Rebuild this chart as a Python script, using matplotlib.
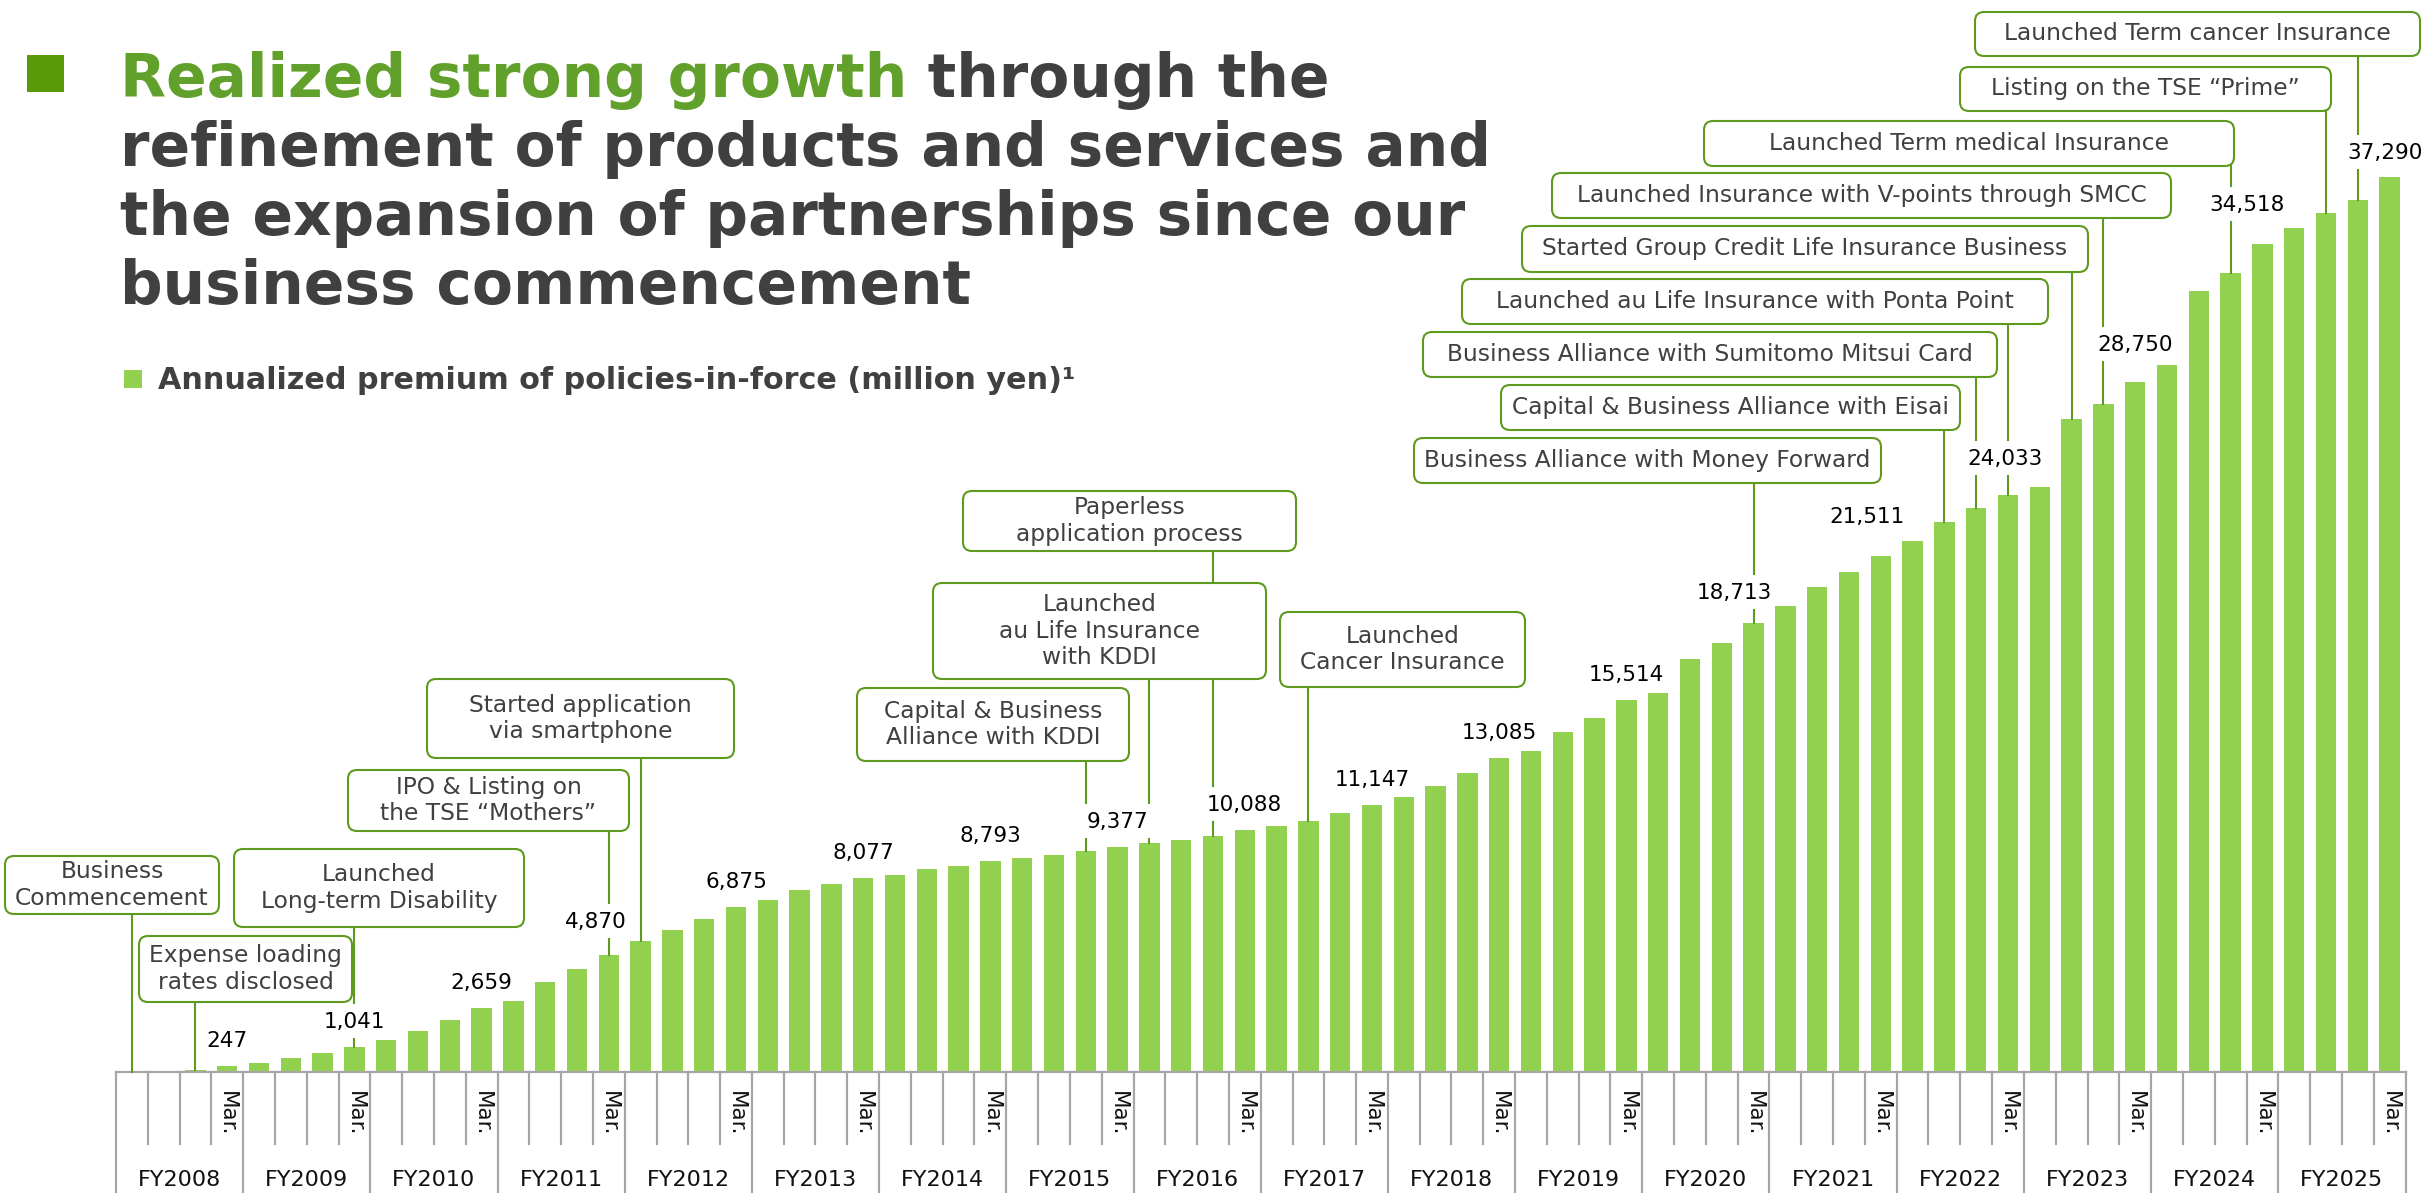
import matplotlib
matplotlib.use("Agg")
import matplotlib.pyplot as plt
from matplotlib.patches import FancyBboxPatch, Rectangle
from matplotlib.lines import Line2D

W, H, DPI = 2424, 1193, 100

BAR = "#92D050"
EDGE = "#5E9A1E"
TITLE_GREEN = "#62A02C"
MARK = "#5A9A08"
DARK = "#404040"
GRID = "#A6A6A6"

# fiscal years, four quarter-end columns each (Jun, Sep, Dec, Mar)
fiscal_years = [f"FY{y}" for y in range(2008, 2026)]
quarter_mark = "Mar."

# annualized premium of policies-in-force, million yen, per quarter end
premium = [
    0, 30, 100, 247,
    400, 590, 810, 1041,
    1350, 1720, 2190, 2659,
    2980, 3770, 4290, 4870,
    5450, 5940, 6380, 6875,
    7180, 7590, 7840, 8077,
    8230, 8450, 8600, 8793,
    8910, 9030, 9200, 9377,
    9530, 9670, 9840, 10088,
    10250, 10470, 10780, 11147,
    11460, 11940, 12480, 13085,
    13370, 14180, 14760, 15514,
    15810, 17210, 17880, 18713,
    19430, 20210, 20820, 21511,
    22110, 22910, 23500, 24033,
    24370, 27230, 27840, 28750,
    29470, 32530, 33300, 34518,
    35160, 35770, 36330, 37290,
]

# milestones: text and the quarter column (1-based) they point at
events = [
    ("Business\nCommencement", 1),
    ("Expense loading\nrates disclosed", 3),
    ("Launched\nLong-term Disability", 8),
    ("IPO & Listing on\nthe TSE \u201cMothers\u201d", 16),
    ("Started application\nvia smartphone", 17),
    ("Capital & Business\nAlliance with KDDI", 31),
    ("Launched\nau Life Insurance\nwith KDDI", 33),
    ("Paperless\napplication process", 35),
    ("Launched\nCancer Insurance", 38),
    ("Business Alliance with Money Forward", 52),
    ("Capital & Business Alliance with Eisai", 58),
    ("Business Alliance with Sumitomo Mitsui Card", 59),
    ("Launched au Life Insurance with Ponta Point", 60),
    ("Started Group Credit Life Insurance Business", 62),
    ("Launched Insurance with V-points through SMCC", 63),
    ("Launched Term medical Insurance", 67),
    ("Listing on the TSE \u201cPrime\u201d", 70),
    ("Launched Term cancer Insurance", 71),
]

# callout boxes in pixels from the top-left corner: left, top, right, bottom
boxes = [
    (5, 856, 219, 914), (139, 936, 352, 1002), (234, 849, 524, 927),
    (348, 770, 629, 831), (427, 679, 734, 758), (857, 688, 1129, 761),
    (933, 583, 1266, 679), (963, 491, 1296, 551), (1280, 612, 1525, 687),
    (1414, 438, 1881, 483), (1501, 385, 1960, 430), (1423, 332, 1997, 377),
    (1462, 279, 2048, 324), (1522, 226, 2088, 272), (1552, 173, 2171, 218),
    (1704, 121, 2234, 166), (1960, 67, 2331, 111), (1975, 12, 2420, 56),
]

# value label nudges in pixels (dx, rise above bar)
label_shift = {"FY2011": (-13, 27), "FY2020": (-19, 24), "FY2021": (-14, 33),
               "FY2022": (-3, 30), "FY2023": (0, 31), "FY2024": (-15, 33),
               "FY2025": (-5, 18)}

X0, PITCH, BASE, PER_PX = 115.9, 31.8, 1072.3, 41.65


def inch(x, y):
    return x / DPI, (H - y) / DPI


fig = plt.figure(figsize=(W / DPI, H / DPI), dpi=DPI, facecolor="white")
n = len(premium)
ax = fig.add_axes([X0 / W, (H - BASE) / H, n * PITCH / W, BASE / H])
ax.set_xlim(0.5, n + 0.5)
ax.set_ylim(0, BASE * PER_PX)
ax.axis("off")

slots = list(range(1, n + 1))
ax.bar(slots, premium, width=0.64, color=BAR, zorder=3)
ax.axhline(0, color=GRID, lw=1.6, zorder=4, clip_on=False)

# category table under the bars
xt = ax.get_xaxis_transform()
for b in range(n + 1):
    low = -0.125 if b % 4 == 0 else -(1144 - BASE) / BASE
    ax.add_line(Line2D([b + 0.5, b + 0.5], [0, low], transform=xt,
                       color=GRID, lw=1.6, clip_on=False))
for i, fy in enumerate(fiscal_years):
    ax.text(4 * i + 4, -(1114 - BASE) / BASE, quarter_mark, transform=xt,
            rotation=270, ha="center", va="center", fontsize=15.5, color="#111111")
    ax.text(4 * i + 2.5, -(1180 - BASE) / BASE, fy, transform=xt,
            ha="center", va="center", fontsize=16, color="#111111")

# year-end value labels
value_texts = []
for i, fy in enumerate(fiscal_years):
    k = 4 * i + 4
    v = premium[k - 1]
    dx, dy = label_shift.get(fy, (0, 19))
    t = ax.annotate(f"{v:,}", xy=(k, v), xytext=(dx * 0.72, dy * 0.72),
                    textcoords="offset points", ha="center", va="baseline",
                    fontsize=15.5, color="black", zorder=5)
    value_texts.append(t)

# title
fs_title = 43
baselines = [97, 166, 235, 304]
t1 = fig.text(120 / W, 1 - baselines[0] / H, "Realized strong growth",
              fontsize=fs_title, fontweight="bold", color=TITLE_GREEN, va="baseline")
fig.canvas.draw()
r = fig.canvas.get_renderer()
x_end = t1.get_window_extent(r).x1
fig.text(x_end / W, 1 - baselines[0] / H, " through the",
         fontsize=fs_title, fontweight="bold", color=DARK, va="baseline")
for line, yb in zip(["refinement of products and services and",
                     "the expansion of partnerships since our",
                     "business commencement"], baselines[1:]):
    fig.text(120 / W, 1 - yb / H, line, fontsize=fs_title,
             fontweight="bold", color=DARK, va="baseline")
fig.add_artist(Rectangle(inch(27, 92), 37 / DPI, 37 / DPI,
                         transform=fig.dpi_scale_trans, color=MARK, lw=0))

fig.add_artist(Rectangle(inch(124, 388), 18 / DPI, 18 / DPI,
                         transform=fig.dpi_scale_trans, color=BAR, lw=0))
fig.text(158 / W, 1 - 389 / H,
         "Annualized premium of policies-in-force (million yen)\u00b9",
         fontsize=21.8, fontweight="bold", color=DARK, va="baseline")

# callouts with leader lines broken around value labels
label_boxes = [t.get_window_extent(r) for t in value_texts]
for (text, k), (l, tp, rt, bt) in zip(events, boxes):
    fig.add_artist(FancyBboxPatch(inch(l, bt), (rt - l) / DPI, (bt - tp) / DPI,
                                  boxstyle="round,pad=0,rounding_size=0.09",
                                  transform=fig.dpi_scale_trans, facecolor="white",
                                  edgecolor=EDGE, lw=1.5, zorder=3))
    cx, cy = inch((l + rt) / 2, (tp + bt) / 2)
    fig.text(cx, cy, text, transform=fig.dpi_scale_trans, ha="center",
             va="center", fontsize=16.8, color=DARK, linespacing=1.22, zorder=4)

    xd, yd = ax.transData.transform((k, premium[k - 1]))
    y_hi = H - bt
    pieces = [(yd, y_hi)]
    for bb in label_boxes:
        if bb.x0 - 1 <= xd <= bb.x1 + 1:
            lo, hi = bb.y0 - 7, bb.y1 + 9
            nxt = []
            for a, b in pieces:
                if hi <= a or lo >= b:
                    nxt.append((a, b))
                else:
                    if lo > a:
                        nxt.append((a, lo))
                    if hi < b:
                        nxt.append((hi, b))
            pieces = nxt
    for a, b in pieces:
        fig.add_artist(Line2D([xd / DPI, xd / DPI], [a / DPI, b / DPI],
                              transform=fig.dpi_scale_trans, color=EDGE,
                              lw=1.5, zorder=1))

fig.savefig("out.png", dpi=DPI, facecolor="white")
